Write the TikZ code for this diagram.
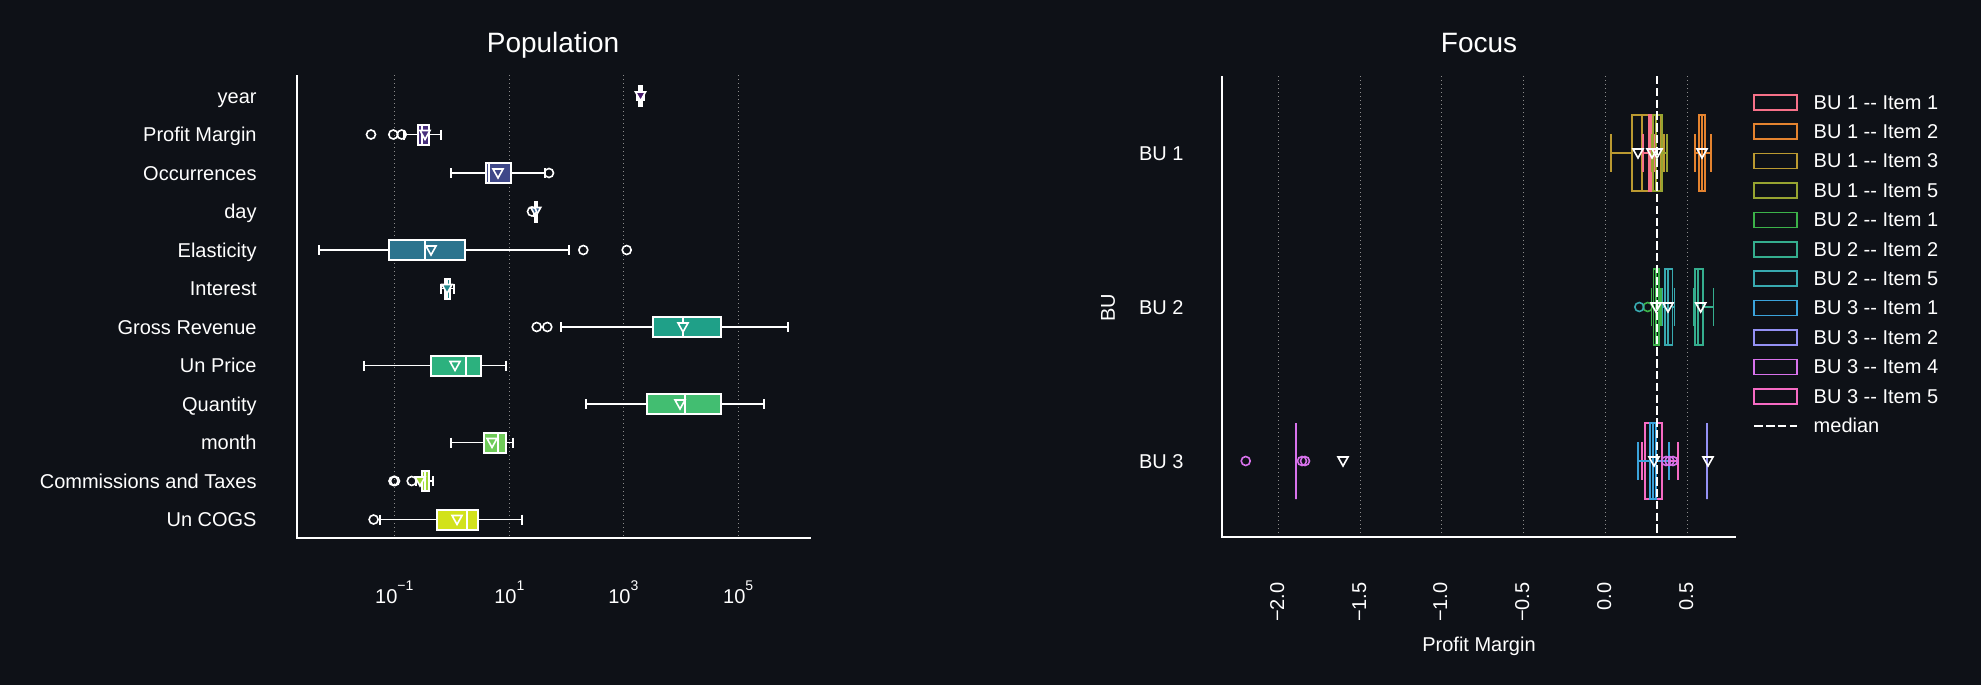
\documentclass[tikz,border=0pt]{standalone}
\usepackage{fontspec}
\setmainfont{Liberation Sans}
\definecolor{bg}{HTML}{0E1117}
\definecolor{gridc}{HTML}{8C8C8C}
% viridis rows
\definecolor{v0}{HTML}{481A6C}
\definecolor{v1}{HTML}{472E7C}
\definecolor{v2}{HTML}{3F4889}
\definecolor{v3}{HTML}{355F8D}
\definecolor{v4}{HTML}{2C748E}
\definecolor{v5}{HTML}{228A8D}
\definecolor{v6}{HTML}{1FA088}
\definecolor{v7}{HTML}{2CB17E}
\definecolor{v8}{HTML}{42BE71}
\definecolor{v9}{HTML}{6FCB58}
\definecolor{v10}{HTML}{A2DA37}
\definecolor{v11}{HTML}{D2E21B}
% hue per item
\definecolor{oneA}{HTML}{F77189}
\definecolor{oneB}{HTML}{E4832F}
\definecolor{oneC}{HTML}{BB9A31}
\definecolor{oneE}{HTML}{97A431}
\definecolor{twoA}{HTML}{3CB24A}
\definecolor{twoB}{HTML}{35AE8E}
\definecolor{twoE}{HTML}{38AAB0}
\definecolor{thrA}{HTML}{3BA3DB}
\definecolor{thrB}{HTML}{9491F4}
\definecolor{thrD}{HTML}{D872EC}
\definecolor{thrE}{HTML}{F66BC4}
\tikzset{
  lbl/.style={text=white,font=\fontsize{10}{12}\selectfont,inner sep=0pt},
  ttl/.style={text=white,font=\fontsize{14}{16}\selectfont,inner sep=0pt},
  spine/.style={white,line width=1pt},
  gridln/.style={gridc,line width=0.5pt,dash pattern=on 0.6pt off 1.4pt},
  whisk/.style={line width=0.9pt},
  flier/.style={white,line width=0.8pt},
  meanmk/.style={white,line width=0.8pt},
}
% y, colour, low, q1, median, q3, high, mean
\newcommand{\popbox}[8]{%
  \draw[white,whisk] (#3,#1) -- (#4,#1) (#6,#1) -- (#7,#1)
    (#3,#1-5) -- (#3,#1+5) (#7,#1-5) -- (#7,#1+5);
  \filldraw[fill=#2,draw=white,line width=1pt] (#4,#1-10) rectangle (#6,#1+10);
  \draw[white,line width=1pt] (#5,#1-10) -- (#5,#1+10);
  \filldraw[meanmk,fill=#2] (#8-5,#1-4) -- (#8+5,#1-4) -- (#8,#1+5) -- cycle;}
% y, colour, low, q1, median, q3, high
\newcommand{\focusbox}[7]{%
  \draw[#2,whisk] (#3,#1) -- (#4,#1) (#6,#1) -- (#7,#1)
    (#3,#1-19) -- (#3,#1+19) (#7,#1-19) -- (#7,#1+19);
  \draw[#2,line width=0.9pt] (#4,#1-38) rectangle (#6,#1+38) (#5,#1-38) -- (#5,#1+38);}
\begin{document}
\begin{tikzpicture}[x=0.5pt,y=-0.5pt]
\path[use as bounding box,fill=bg] (0,0) rectangle (1981,685);

% Population
\node[ttl,anchor=base] (popttl) at (553,52) {Population};
\foreach \gx in {394.3,509.3,623.3,738.2}
  \draw[gridln] (\gx,75) -- (\gx,537);
\node[lbl,anchor=base] (tk1) at (394.3,603) {10\raisebox{6.3pt}{\fontsize{7}{8}\selectfont −1}};
\node[lbl,anchor=base] (tk2) at (509.3,603) {10\raisebox{6.3pt}{\fontsize{7}{8}\selectfont 1}};
\node[lbl,anchor=base] (tk3) at (623.3,603) {10\raisebox{6.3pt}{\fontsize{7}{8}\selectfont 3}};
\node[lbl,anchor=base] (tk4) at (738.2,603) {10\raisebox{6.3pt}{\fontsize{7}{8}\selectfont 5}};
\foreach \i/\nm/\lo/\qa/\md/\qb/\hi/\mn in {
  0/year/637/639/640.5/642/644/640.5,
  1/Profit Margin/404/418/422/429/441/425,
  2/Occurrences/451/486/489/511/545/498,
  3/day/534/535/535.7/536.5/537.5/535.7,
  4/Elasticity/319/389/425/465/569/431,
  5/Interest/441/445/447/450/454/447,
  6/Gross Revenue/561/653/683/721/788/683,
  7/Un Price/364/431/466/481/506/455,
  8/Quantity/586/647/685/721/764/680,
  9/month/451/484/498/506/513/492,
  10/Commissions and Taxes/416/422/425/429/433/420,
  11/Un COGS/380/437/467/478/522/457}{
  \pgfmathsetmacro\y{96+38.5*\i}
  \node[lbl,anchor=base east] (cat\i) at (257,\y+7.2) {\nm};
  \popbox{\y}{v\i}{\lo}{\qa}{\md}{\qb}{\hi}{\mn}
}
\foreach \x/\y in {371/134.5,393.3/134.5,401.7/134.5,549/173,532/211.5,583.3/250,626.7/250,
  536.7/327,547.3/327,393.5/481,395/481,411.7/481,373.6/519.5}
  \draw[flier] (\x,\y) circle[radius=2.25pt];
\draw[spine] (296.7,75) -- (296.7,537.7) -- (811,537.7);

% Focus
\node[ttl,anchor=base] (focttl) at (1479,52) {Focus};
\foreach \gx/\t in {1278.3/−2.0,1360.3/−1.5,1441.3/−1.0,1523.3/−0.5,1605.3/0.0,1687.3/0.5}{
  \draw[gridln] (\gx,76) -- (\gx,537);
  \node[lbl,rotate=90,anchor=east] (tk\gx) at (\gx-1,582) {\t};
}
\node[lbl,anchor=base] (pmlbl) at (1479,651) {Profit Margin};
\node[lbl,rotate=90] (bulbl) at (1108,308) {BU};
\node[lbl,anchor=base east] (bu1) at (1184,160.2) {BU 1};
\node[lbl,anchor=base east] (bu2) at (1184,314.2) {BU 2};
\node[lbl,anchor=base east] (bu3) at (1184,468.2) {BU 3};
% BU 1
\focusbox{153}{oneC}{1611}{1632}{1642}{1661}{1664}
\focusbox{153}{oneA}{1643}{1649}{1650}{1652}{1655}
\focusbox{153}{oneE}{1652}{1653}{1656}{1662}{1667}
\focusbox{153}{oneB}{1695}{1699}{1702}{1705}{1711}
% BU 2
\focusbox{307}{twoA}{1651.5}{1653.5}{1656}{1659}{1661}
\focusbox{307}{twoE}{1662.5}{1665}{1668}{1672.5}{1674.5}
\focusbox{307}{twoB}{1694}{1695}{1698}{1703}{1713.5}
% BU 3
\focusbox{461}{thrE}{1642}{1645}{1650}{1662}{1678}
\focusbox{461}{thrA}{1637.7}{1650}{1653}{1655.7}{1669}
\focusbox{461}{thrD}{1296}{1296}{1296}{1296}{1296}
\focusbox{461}{thrB}{1707.3}{1707.3}{1707.3}{1707.3}{1707.3}
\foreach \x/\y/\c in {1647.7/307/twoA,1639.3/307/twoE,1245.7/461/thrD,1302/461/thrD,1305/461/thrD,
  1666/461/thrD,1669.5/461/thrD,1673/461/thrD}
  \draw[flier,\c] (\x,\y) circle[radius=2.25pt];
\draw[white,line width=1.1pt,dash pattern=on 4.2pt off 1.7pt] (1656.7,76) -- (1656.7,537);
\foreach \x/\y in {1638/153,1652/153,1657/153,1702/153,1656/307,1668/307,1700.7/307,
  1654/461,1343/461,1708/461}
  \draw[meanmk] (\x-5,\y-4) -- (\x+5,\y-4) -- (\x,\y+5) -- cycle;
\draw[spine] (1222,76) -- (1222,537.3) -- (1736,537.3);

% legend
\foreach \i/\c/\t in {0/oneA/BU 1 -{}- Item 1,1/oneB/BU 1 -{}- Item 2,2/oneC/BU 1 -{}- Item 3,
  3/oneE/BU 1 -{}- Item 5,4/twoA/BU 2 -{}- Item 1,5/twoB/BU 2 -{}- Item 2,6/twoE/BU 2 -{}- Item 5,
  7/thrA/BU 3 -{}- Item 1,8/thrB/BU 3 -{}- Item 2,9/thrD/BU 3 -{}- Item 4,10/thrE/BU 3 -{}- Item 5}{
  \pgfmathsetmacro\y{102.3+29.4*\i}
  \draw[\c,line width=0.85pt] (1754.3,\y-7.5) rectangle (1797.3,\y+7.5);
  \node[lbl,anchor=west] (leg\i) at (1813.3,\y) {\t};
}
\draw[white,line width=1.1pt,dash pattern=on 4.2pt off 1.7pt] (1754.3,425.7) -- (1797.3,425.7);
\node[lbl,anchor=west] (leg11) at (1813.3,425.7) {median};
\end{tikzpicture}
\end{document}
